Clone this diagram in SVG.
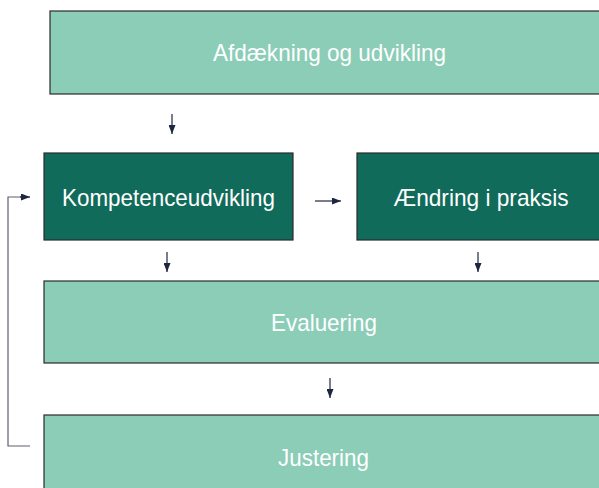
<svg xmlns="http://www.w3.org/2000/svg" width="599" height="488" viewBox="0 0 599 488">
<defs>
<style>
.light{fill:#8ccdb8;stroke:#2b2b2b;stroke-width:1.2}
.dark{fill:#106b5a;stroke:#2b2b2b;stroke-width:1.2}
.t{font-family:"Liberation Sans",Arial,sans-serif;font-size:24px;fill:#ffffff;text-anchor:middle}
.c{stroke:#1e2740;stroke-width:1.2;fill:none}
.fb{stroke:#5a6070;stroke-width:1.2;fill:none}
</style>
<marker id="ah" viewBox="0 0 9 7" refX="9" refY="3.5" markerWidth="9" markerHeight="7" markerUnits="userSpaceOnUse" orient="auto">
<path d="M0,0 L9,3.5 L0,7 Z" fill="#1e2740"/>
</marker>
</defs>
<g id="afdaekning">
<rect class="light" x="50" y="11" width="570" height="83"/>
<text class="t" x="329.5" y="61" textLength="233" lengthAdjust="spacingAndGlyphs">Afdækning og udvikling</text>
</g>
<g id="kompetenceudvikling">
<rect class="dark" x="44" y="153" width="249" height="87"/>
<text class="t" x="168.5" y="205.5" textLength="213" lengthAdjust="spacingAndGlyphs">Kompetenceudvikling</text>
</g>
<g id="aendring">
<rect class="dark" x="357" y="153" width="260" height="87"/>
<text class="t" x="481" y="206" textLength="175" lengthAdjust="spacingAndGlyphs">Ændring i praksis</text>
</g>
<g id="evaluering">
<rect class="light" x="44" y="281" width="576" height="82"/>
<text class="t" x="324" y="331" textLength="106" lengthAdjust="spacingAndGlyphs">Evaluering</text>
</g>
<g id="justering">
<rect class="light" x="44" y="415" width="576" height="90"/>
<text class="t" x="323.5" y="466" textLength="91" lengthAdjust="spacingAndGlyphs">Justering</text>
</g>
<g id="connectors">
<line class="c" x1="172" y1="114" x2="172" y2="134" marker-end="url(#ah)"/>
<line class="c" x1="315" y1="201" x2="341" y2="201" marker-end="url(#ah)"/>
<line class="c" x1="167" y1="252" x2="167" y2="272" marker-end="url(#ah)"/>
<line class="c" x1="478" y1="252" x2="478" y2="272" marker-end="url(#ah)"/>
<line class="c" x1="330" y1="378" x2="330" y2="398" marker-end="url(#ah)"/>
<path class="fb" d="M30,446 H8 V197 H21"/>
<line class="c" x1="20" y1="197" x2="30" y2="197" marker-end="url(#ah)"/>
</g>
</svg>
